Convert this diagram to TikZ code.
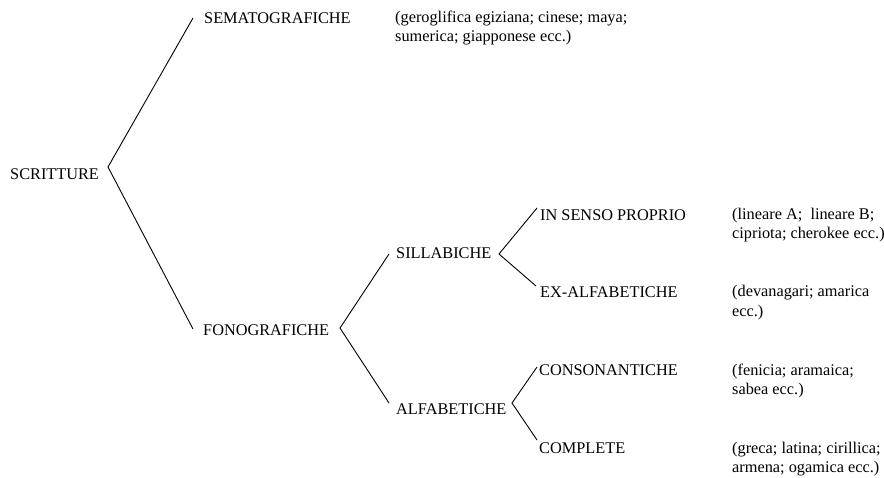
\documentclass[tikz,border=0pt]{standalone}
\usepackage{fontspec}
\setmainfont{Liberation Serif}
\begin{document}
\begin{tikzpicture}[x=1pt,y=-1pt,
  lbl/.style={anchor=west,inner sep=0pt,font=\fontsize{16.3}{19.5}\selectfont},
  ex/.style={lbl,align=left},
  conn/.style={line width=0.9pt,black}]
\useasboundingbox (0,0) rectangle (884,477);
\node[lbl] (scr) at (10,174) {SCRITTURE};
\node[lbl] (sema) at (204,18) {SEMATOGRAFICHE};
\node[ex] (semaex) at (395,28) {(geroglifica egiziana; cinese; maya;\\sumerica; giapponese ecc.)};
\node[lbl] (fono) at (203,330) {FONOGRAFICHE};
\node[lbl] (sill) at (396,253) {SILLABICHE};
\node[lbl] (alf) at (396,409) {ALFABETICHE};
\node[lbl] (isp) at (540,215) {IN SENSO PROPRIO};
\node[lbl] (exa) at (540,292) {EX-ALFABETICHE};
\node[lbl] (cons) at (539,370) {CONSONANTICHE};
\node[lbl] (comp) at (539,448) {COMPLETE};
\node[ex] (lin) at (732,225) {(lineare A;~ lineare B;\\cipriota; cherokee ecc.)};
\node[ex] (dev) at (732,302.5) {(devanagari; amarica\\ecc.)};
\node[ex] (fen) at (732,381) {(fenicia; aramaica;\\sabea ecc.)};
\node[ex] (gre) at (732,459) {(greca; latina; cirillica;\\armena; ogamica ecc.)};
\coordinate (v0) at (108,167);
\coordinate (v1) at (340,328);
\coordinate (v2) at (499,254);
\coordinate (v3) at (512,403);
\draw[conn] ([xshift=-11pt]sema.west) -- (v0) -- ([xshift=-10pt,yshift=1pt]fono.west);
\draw[conn] ([xshift=-7pt,yshift=-1pt]sill.west) -- (v1) -- ([xshift=-7pt,yshift=6pt]alf.west);
\draw[conn] ([xshift=-3pt,yshift=7pt]isp.west) -- (v2) -- ([xshift=-4pt,yshift=6pt]exa.west);
\draw[conn] ([xshift=-2pt,yshift=3pt]cons.west) -- (v3) -- ([xshift=-2pt,yshift=8pt]comp.west);
\end{tikzpicture}
\end{document}
